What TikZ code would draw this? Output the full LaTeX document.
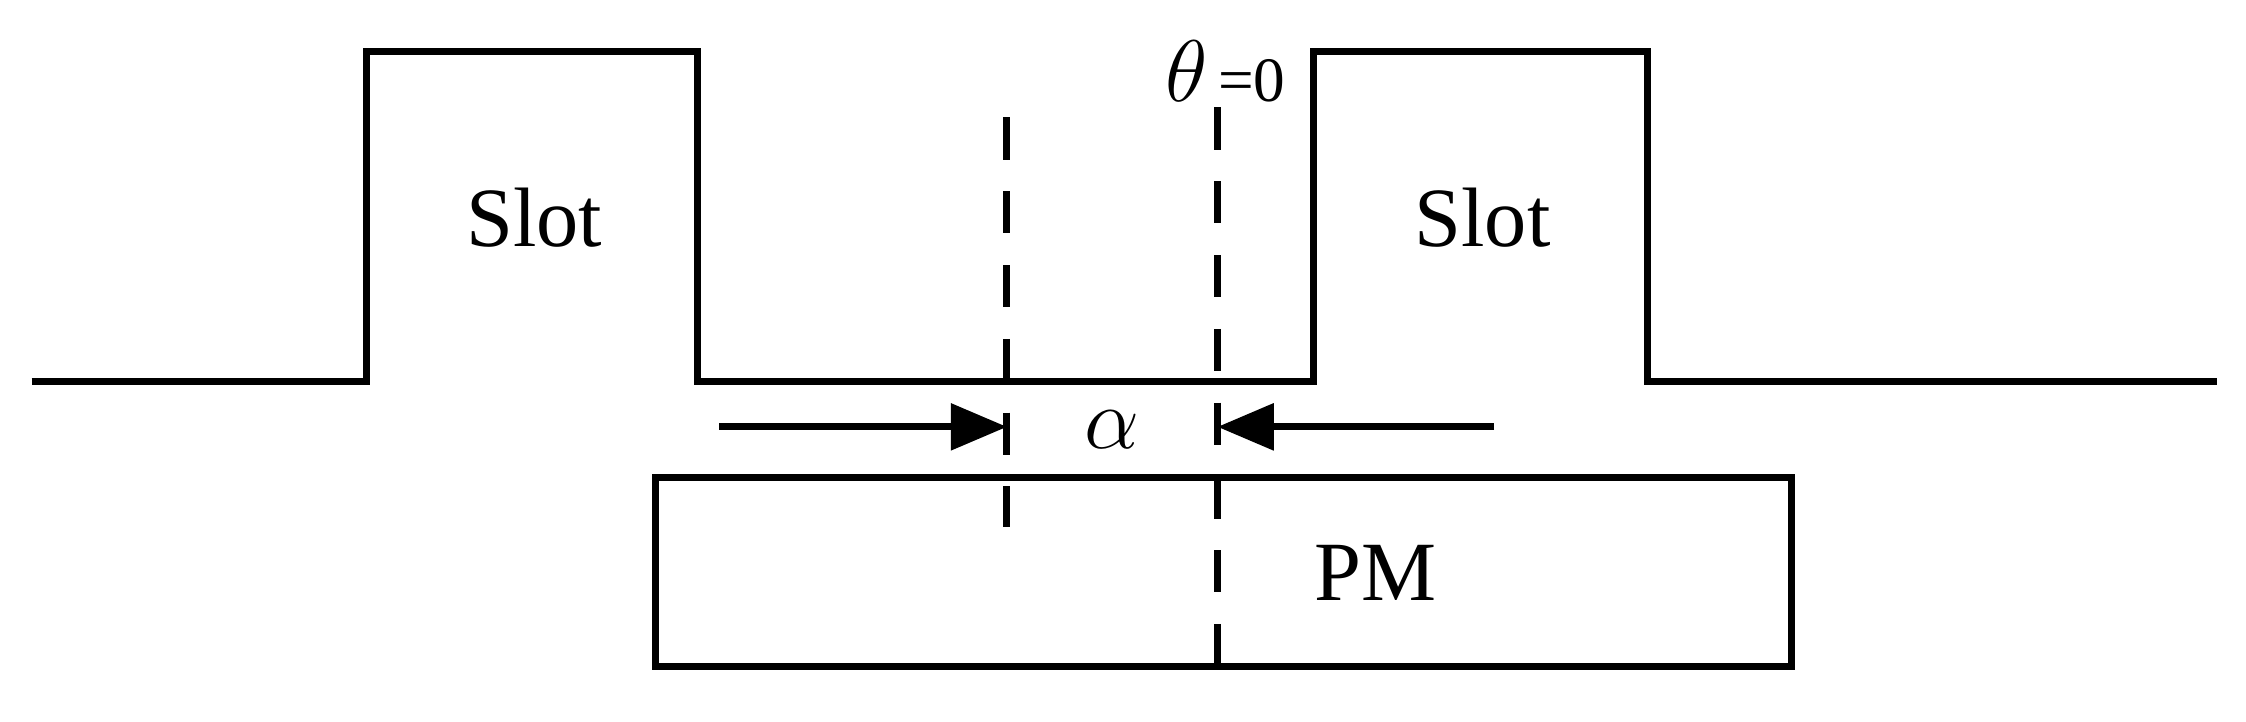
\documentclass[tikz,border=0pt]{standalone}
\usepackage{fontspec}
\setmainfont{Liberation Serif}
\usetikzlibrary{arrows.meta}
\begin{document}
\begin{tikzpicture}[x=0.014324cm,y=-0.014324cm,
  ln/.style={line width=2pt},
  dsh/.style={line width=2pt,dash pattern=on 12pt off 9pt},
  arr/.style={line width=2pt,-{Triangle[length=16pt,width=13pt,fill=black]}},
  lbl/.style={font=\fontsize{24}{26}\selectfont,inner sep=0pt}]
\useasboundingbox (0,0) rectangle (1568,504);
\draw[ln] (22,266) -- (256,266) -- (256,36) -- (487,36) -- (487,266) -- (917,266) -- (917,36) -- (1150,36) -- (1150,266) -- (1548,266);
\node[draw,ln,minimum width=793*0.014324cm,minimum height=132*0.014324cm,inner sep=0pt,anchor=north west] (pm) at (455,331) {};
\coordinate (d1t) at (703,82); \coordinate (d1b) at (703,368);
\coordinate (d2t) at (850,75); \coordinate (d2b) at (850,480);
\draw[dsh] (d1t) -- (d1b);
\draw[dsh] (d2t) -- (d2b);
\coordinate (a1s) at (502,298); \coordinate (a1e) at (703,298);
\coordinate (a2s) at (1043,298); \coordinate (a2e) at (850,298);
\draw[arr] (a1s) -- (a1e);
\draw[arr] (a2s) -- (a2e);
\node[lbl] (alpha) at (776,300) {$\alpha$};
\node[lbl,anchor=west] (theta) at (813,50) {$\theta$\fontsize{18}{20}\selectfont\,=0};
\node[lbl] (s1) at (373,152) {Slot};
\node[lbl] (s2) at (1035,152) {Slot};
\node[lbl] (pml) at (960,400) {PM};
\end{tikzpicture}
\end{document}
